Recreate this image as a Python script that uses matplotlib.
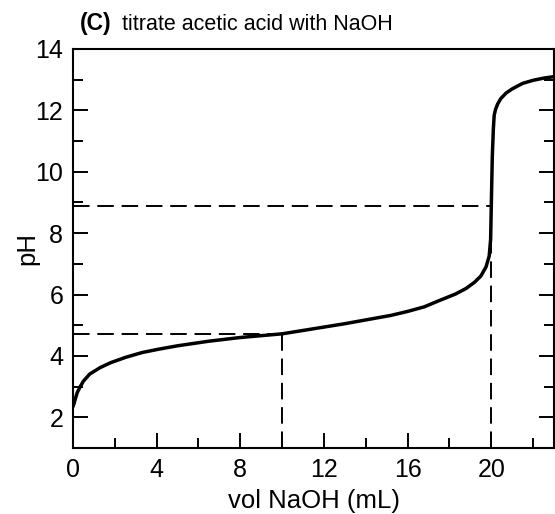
import matplotlib
matplotlib.use("Agg")
import matplotlib.pyplot as plt
from matplotlib.ticker import MultipleLocator

plt.rcParams["font.family"] = ["Liberation Sans", "DejaVu Sans"]

# titration curve
vol = [0, 0.05, 0.12, 0.2, 0.33, 0.5, 0.8, 1.3, 1.8, 2.5, 3.3, 4.1, 5, 6.5,
       8, 9, 10, 11, 12, 13, 14.3, 15.2, 16, 16.8, 17.5, 18.3, 18.8, 19.2,
       19.5, 19.75, 19.9, 19.97, 20.0, 20.05, 20.1, 20.14, 20.2, 20.3, 20.45,
       20.7, 21.0, 21.5, 22.0, 22.5, 23.0]
ph = [2.35, 2.45, 2.62, 2.8, 2.98, 3.18, 3.41, 3.62, 3.78, 3.95, 4.11, 4.22,
      4.33, 4.48, 4.6, 4.66, 4.72, 4.83, 4.94, 5.05, 5.21, 5.32, 5.45, 5.6,
      5.8, 6.02, 6.2, 6.4, 6.6, 6.9, 7.25, 7.8, 8.85, 10.5, 11.4, 11.84,
      12.02, 12.2, 12.38, 12.56, 12.7, 12.88, 12.98, 13.05, 13.1]

half_eq = (10, 4.72)
equiv = (20, 8.87)

fig = plt.figure(figsize=(5.55, 5.14), dpi=100)
ax = fig.add_axes([73 / 555, 66 / 514, 481 / 555, 399 / 514])

ax.plot(vol, ph, color="black", lw=2.5, solid_capstyle="round",
        solid_joinstyle="round", zorder=3)

# dashed guide lines
for vx, vy in [half_eq, equiv]:
    ax.plot([0, vx], [vy, vy], color="black", lw=1.4, dashes=(8.5, 4))
    ax.plot([vx, vx], [1, vy], color="black", lw=1.4, dashes=(8.5, 4))

ax.set_xlim(0, 23)
ax.set_ylim(1, 14)
ax.xaxis.set_major_locator(MultipleLocator(4))
ax.xaxis.set_minor_locator(MultipleLocator(2))
ax.yaxis.set_major_locator(MultipleLocator(2))
ax.yaxis.set_minor_locator(MultipleLocator(1))
ax.set_yticks(range(2, 15, 2))

ax.tick_params(which="both", direction="in", width=1.4, top=False,
               right=True, labelsize=18, pad=7)
ax.tick_params(which="major", length=11)
ax.tick_params(which="minor", length=7.5)
for sp in ax.spines.values():
    sp.set_linewidth(1.5)

ax.set_xlabel("vol NaOH (mL)", fontsize=18.5, labelpad=5)
ax.set_ylabel("pH", fontsize=18.5, labelpad=-3)

fig.text(80 / 555, (514 - 30) / 514, "(C)", fontsize=16.5, fontweight="bold",
         va="baseline")
fig.text(122 / 555, (514 - 30) / 514, "titrate acetic acid with NaOH",
         fontsize=15.5, va="baseline")

fig.savefig("out.png", dpi=100)
